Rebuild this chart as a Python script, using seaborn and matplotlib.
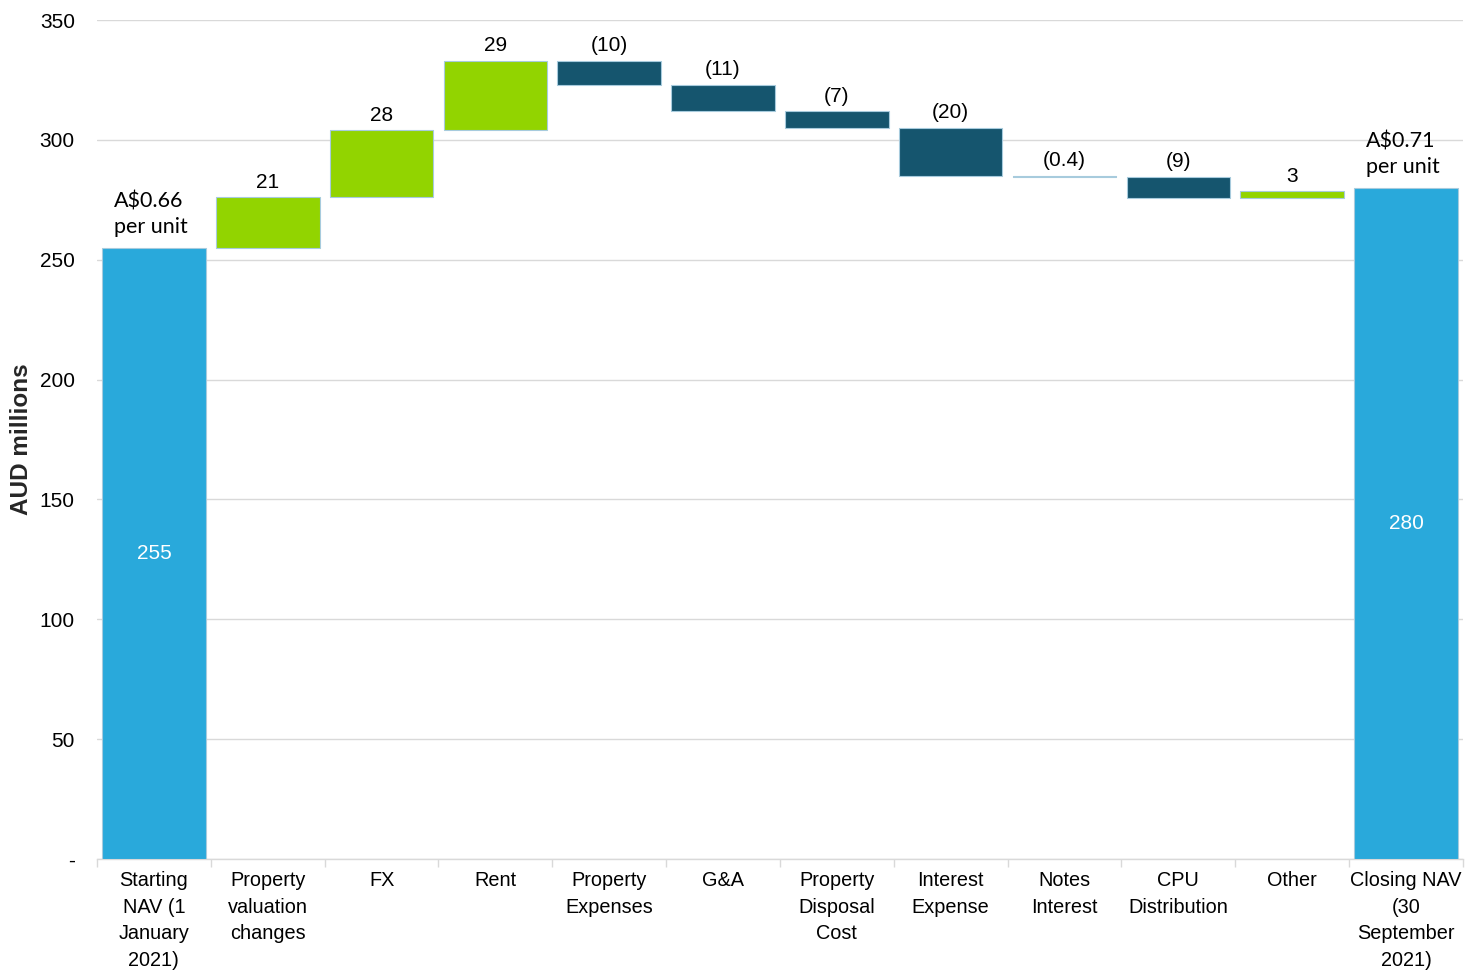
import numpy as np
import pandas as pd
import matplotlib
matplotlib.use("Agg")
import matplotlib.pyplot as plt
import seaborn as sns

# NAV bridge, AUD millions
categories = [
    "Starting\nNAV (1\nJanuary\n2021)",
    "Property\nvaluation\nchanges",
    "FX",
    "Rent",
    "Property\nExpenses",
    "G&A",
    "Property\nDisposal\nCost",
    "Interest\nExpense",
    "Notes\nInterest",
    "CPU\nDistribution",
    "Other",
    "Closing NAV\n(30\nSeptember\n2021)",
]
opening_nav = 255
changes = [21, 28, 29, -10, -11, -7, -20, -0.4, -9, 3]
closing_nav = 280
per_unit_labels = ["A$0.66\nper unit", "A$0.71\nper unit"]
y_ticks = [0, 50, 100, 150, 200, 250, 300, 350]
y_tick_labels = ["-", "50", "100", "150", "200", "250", "300", "350"]

sns.set_theme(style="white")
plt.rcParams["font.family"] = ["Liberation Sans", "DejaVu Sans"]
plt.rcParams["text.color"] = "black"

# floating bar geometry
running = opening_nav + np.concatenate([[0], np.cumsum(changes)])
starts = running[:-1]
ends = running[1:]
heights = [opening_nav] + [abs(c) for c in changes] + [closing_nav]
bottoms = [0] + list(np.minimum(starts, ends)) + [0]
kinds = ["total"] + ["increase" if c > 0 else "decrease" for c in changes] + ["total"]

df = pd.DataFrame({"category": categories, "height": heights,
                   "bottom": bottoms, "kind": kinds})

palette = {"total": "#29A9DB", "increase": "#92D400", "decrease": "#15556E"}

fig = plt.figure(figsize=(14.79, 9.72), dpi=100)
ax = fig.add_axes([0.0656, 0.1163, 0.9235, 0.8631])

sns.barplot(data=df, x="category", y="height", color=palette["total"],
            width=0.91, bottom=df["bottom"].values, saturation=1,
            edgecolor="#A7CBDD", linewidth=0.8, ax=ax, zorder=3)
for patch, kind in zip(ax.patches, df["kind"]):
    patch.set_facecolor(palette[kind])

ax.set_xlim(-0.5, len(categories) - 0.5)
ax.set_ylim(0, 350)
ax.set_yticks(y_ticks)
ax.set_yticklabels(y_tick_labels)
ax.yaxis.grid(True, color="#D9D9D9", linewidth=1)
ax.set_axisbelow(True)

for side in ["top", "right", "left"]:
    ax.spines[side].set_visible(False)
ax.spines["bottom"].set_color("#D9D9D9")
ax.spines["bottom"].set_linewidth(1)

ax.set_xticks(np.arange(len(categories)))
ax.set_xticklabels(categories, linespacing=1.5)
ax.tick_params(axis="y", length=0, pad=16, labelsize=15, labelcolor="black")
ax.tick_params(axis="x", which="major", length=0, pad=9, labelsize=14.3,
               labelcolor="black")
ax.set_xticks(np.arange(-0.5, len(categories), 1), minor=True)
ax.tick_params(axis="x", which="minor", length=6, width=1, color="#D9D9D9",
               direction="out", bottom=True)

ax.set_xlabel("")
ax.set_ylabel("AUD millions", fontsize=17.5, fontweight="bold", labelpad=5)

# value labels on the movements
for i, c in enumerate(changes, start=1):
    top = max(starts[i - 1], ends[i - 1])
    txt = f"{c:g}" if c > 0 else f"({-c:g})"
    ax.annotate(txt, (i, top), xytext=(0, 4), textcoords="offset points",
                ha="center", va="bottom", fontsize=15, color="black")

# totals: value inside, per-unit NAV above
total_positions = [0, len(categories) - 1]
total_values = [opening_nav, closing_nav]
for pos, val, unit in zip(total_positions, total_values, per_unit_labels):
    ax.text(pos, val / 2, f"{val:g}", ha="center", va="center",
            fontsize=15, color="white")
    ax.annotate(unit, (pos, val), xytext=(-2, 8), textcoords="offset points",
                ha="center", va="bottom", multialignment="left",
                fontsize=15.5, family=["Lato", "DejaVu Sans"], linespacing=1.35,
                color="black")

fig.savefig("out.png", dpi=100)
